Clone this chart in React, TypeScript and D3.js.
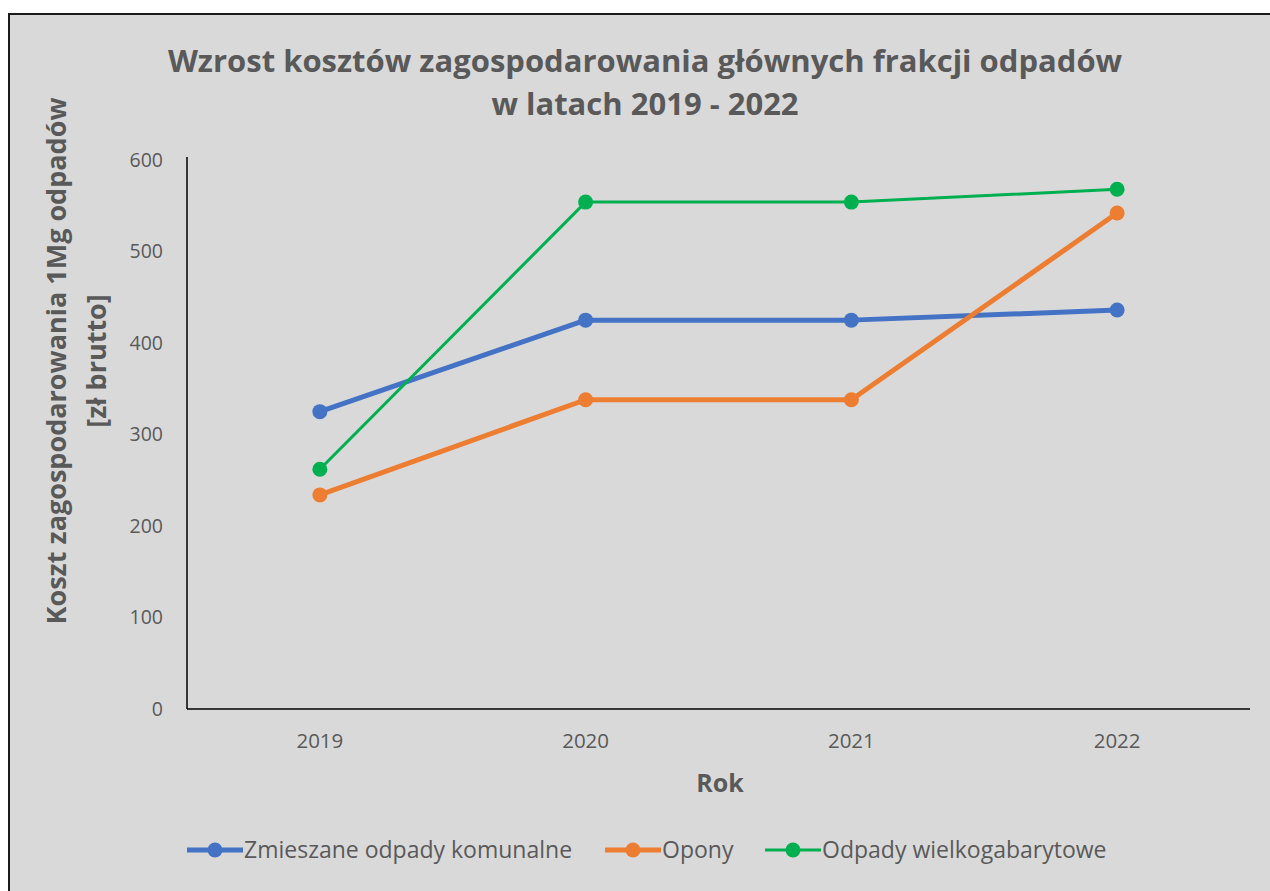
import * as d3 from 'd3';

const years = ['2019', '2020', '2021', '2022'];
const mixedWaste = [325, 425, 425, 436];
const tyres = [234, 338, 338, 542];
const bulkyWaste = [262, 554, 554, 568];
const yTicks = [0, 100, 200, 300, 400, 500, 600];

const series = [
  { name: 'Zmieszane odpady komunalne', values: mixedWaste, color: '#4472c4', width: 5 },
  { name: 'Opony', values: tyres, color: '#ed7d31', width: 5 },
  { name: 'Odpady wielkogabarytowe', values: bulkyWaste, color: '#00b050', width: 3 },
];

const font = '"Open Sans", sans-serif';
const textColor = '#595959';

export default function App() {
  // plot area in page coordinates
  const plot = { left: 187, right: 1250, top: 160, bottom: 709 };

  const x = d3.scaleBand().domain(years).range([plot.left, plot.right]);
  const y = d3.scaleLinear().domain([0, 600]).range([plot.bottom, plot.top]);
  const cx = (yr: string) => (x(yr) ?? 0) + x.bandwidth() / 2;

  const line = d3
    .line<number>()
    .x((_, i) => cx(years[i]))
    .y((d) => y(d));

  // legend entries, laid out left to right
  const legendX = [187, 605, 765];

  return (
    <svg
      width={1270}
      height={891}
      style={{ position: 'absolute', left: 0, top: 0, fontFamily: font }}
    >
      <rect x={9} y={14} width={1300} height={900} fill="#d9d9d9" stroke="#1a1a1a" strokeWidth={2} />

      <text x={645} y={72} textAnchor="middle" fontSize={31} fontWeight="bold" fill={textColor}>
        Wzrost kosztów zagospodarowania głównych frakcji odpadów
      </text>
      <text x={645} y={115} textAnchor="middle" fontSize={31} fontWeight="bold" fill={textColor}>
        w latach 2019 - 2022
      </text>

      {/* axes */}
      <line x1={plot.left} x2={plot.left} y1={plot.top - 3} y2={plot.bottom} stroke="#000" strokeWidth={1.5} />
      <line x1={plot.left} x2={plot.right} y1={plot.bottom} y2={plot.bottom} stroke="#000" strokeWidth={1.5} />
      {yTicks.map((t) => (
        <text key={t} x={163} y={y(t)} dy="0.35em" textAnchor="end" fontSize={19.5} fill={textColor}>
          {t}
        </text>
      ))}
      {years.map((yr) => (
        <text key={yr} x={cx(yr)} y={748} textAnchor="middle" fontSize={20.5} fill={textColor}>
          {yr}
        </text>
      ))}

      <text x={720} y={792} textAnchor="middle" fontSize={25} fontWeight="bold" fill={textColor}>
        Rok
      </text>
      <g transform="translate(66, 361) rotate(-90)">
        <text x={0} y={0} textAnchor="middle" fontSize={27} fontWeight="bold" fill={textColor}>
          Koszt zagospodarowania 1Mg odpadów
        </text>
        <text x={0} y={40} textAnchor="middle" fontSize={27} fontWeight="bold" fill={textColor}>
          [zł brutto]
        </text>
      </g>

      {series.map((s) => (
        <g key={s.name}>
          <path d={line(s.values) ?? ''} fill="none" stroke={s.color} strokeWidth={s.width} strokeLinejoin="round" />
          {s.values.map((v, i) => (
            <circle key={i} cx={cx(years[i])} cy={y(v)} r={7.5} fill={s.color} />
          ))}
        </g>
      ))}

      {series.map((s, i) => (
        <g key={s.name} transform={`translate(${legendX[i]}, 850)`}>
          <line x1={0} x2={56} y1={0} y2={0} stroke={s.color} strokeWidth={s.width} />
          <circle cx={28} cy={0} r={7.5} fill={s.color} />
          <text x={57} y={0} dy="0.35em" fontSize={23} fill={textColor}>
            {s.name}
          </text>
        </g>
      ))}
    </svg>
  );
}
